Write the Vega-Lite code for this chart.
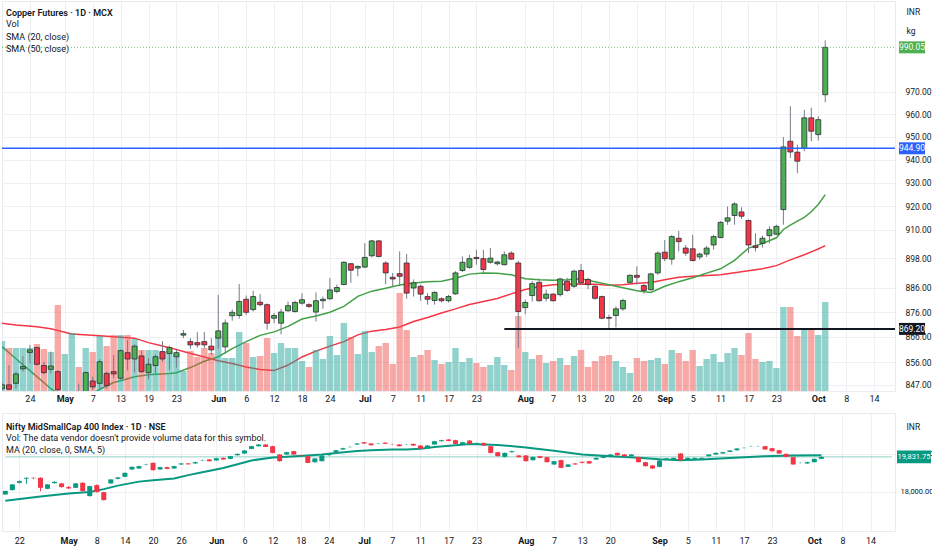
{
  "$schema": "https://vega.github.io/schema/vega-lite/v6.json",
  "background": "#ffffff",
  "padding": {"left": 0, "top": 0, "right": 12, "bottom": 0},
  "spacing": 8,
  "datasets": {
    "mcx": [
      {"d":"2025-04-17","o":845.5,"h":848,"l":844,"c":847,"v":5000},
      {"d":"2025-04-21","o":847,"h":854.8,"l":844.9,"c":845.3,"v":4300},
      {"d":"2025-04-22","o":847.6,"h":852.2,"l":845.6,"c":851.3,"v":4300},
      {"d":"2025-04-23","o":853.3,"h":858.4,"l":852.2,"c":854.2,"v":4300},
      {"d":"2025-04-24","o":859.8,"h":862.8,"l":855.5,"c":860.8,"v":4300},
      {"d":"2025-04-25","o":861.7,"h":862.2,"l":854.6,"c":855.1,"v":4700},
      {"d":"2025-04-28","o":854.6,"h":856.1,"l":851.1,"c":851.8,"v":4200},
      {"d":"2025-04-29","o":853.1,"h":860.1,"l":851.5,"c":854.4,"v":3900},
      {"d":"2025-04-30","o":852.2,"h":852.8,"l":843,"c":845.1,"v":8600},
      {"d":"2025-05-01","o":842,"h":844.2,"l":839,"c":843.5,"v":3700},
      {"d":"2025-05-02","o":838,"h":843.5,"l":836,"c":842.5,"v":5800},
      {"d":"2025-05-05","o":843,"h":847.5,"l":838,"c":839.5,"v":2400},
      {"d":"2025-05-06","o":840.5,"h":852.3,"l":839,"c":851.8,"v":4300},
      {"d":"2025-05-07","o":848.5,"h":850.2,"l":845,"c":846.2,"v":3900},
      {"d":"2025-05-08","o":847.6,"h":857.1,"l":845.7,"c":856.1,"v":5500},
      {"d":"2025-05-09","o":851.5,"h":852.2,"l":845.6,"c":846.7,"v":4500},
      {"d":"2025-05-12","o":852.2,"h":858.8,"l":849.6,"c":851.3,"v":5600},
      {"d":"2025-05-13","o":849.6,"h":861,"l":849,"c":860.5,"v":5600},
      {"d":"2025-05-14","o":859.7,"h":864.7,"l":852.7,"c":857.2,"v":5600},
      {"d":"2025-05-15","o":857.2,"h":863,"l":851.9,"c":862.3,"v":5200},
      {"d":"2025-05-16","o":858.4,"h":860.4,"l":851.8,"c":852.2,"v":4100},
      {"d":"2025-05-19","o":851.8,"h":857.5,"l":849.2,"c":855.1,"v":4100},
      {"d":"2025-05-20","o":854.6,"h":859,"l":851.5,"c":858.1,"v":4100},
      {"d":"2025-05-21","o":860.1,"h":864.3,"l":856.1,"c":857.2,"v":4000},
      {"d":"2025-05-22","o":859.4,"h":862.5,"l":852.9,"c":861.7,"v":4000},
      {"d":"2025-05-23","o":858.1,"h":860.8,"l":853.8,"c":859.7,"v":3700},
      {"d":"2025-05-26","o":866.7,"h":868.8,"l":865.5,"c":867.3,"v":2000},
      {"d":"2025-05-27","o":864.1,"h":865.5,"l":861.2,"c":862.8,"v":4000},
      {"d":"2025-05-28","o":863.7,"h":867.9,"l":861.7,"c":862.8,"v":3400},
      {"d":"2025-05-29","o":864.1,"h":868,"l":861.4,"c":862.8,"v":4300},
      {"d":"2025-05-30","o":862.3,"h":865.5,"l":858.8,"c":860.8,"v":3800},
      {"d":"2025-06-02","o":865.5,"h":883,"l":861.4,"c":868.4,"v":5500},
      {"d":"2025-06-03","o":862,"h":873,"l":859.4,"c":871.6,"v":3300},
      {"d":"2025-06-04","o":874.5,"h":877,"l":872.5,"c":875.9,"v":3300},
      {"d":"2025-06-05","o":874.6,"h":887.4,"l":873.3,"c":880.3,"v":5900},
      {"d":"2025-06-06","o":881.2,"h":882.7,"l":874.8,"c":875.9,"v":4800},
      {"d":"2025-06-09","o":877,"h":884.6,"l":876.2,"c":882.3,"v":3400},
      {"d":"2025-06-10","o":880,"h":883.3,"l":878.3,"c":879,"v":3500},
      {"d":"2025-06-11","o":879,"h":879.5,"l":868.9,"c":871.5,"v":5300},
      {"d":"2025-06-12","o":873.5,"h":875.6,"l":871.5,"c":874.6,"v":3800},
      {"d":"2025-06-13","o":871.5,"h":877.3,"l":867,"c":876,"v":4800},
      {"d":"2025-06-16","o":876.5,"h":880.3,"l":876.2,"c":878.6,"v":4300},
      {"d":"2025-06-17","o":876.2,"h":880.6,"l":875.8,"c":879.9,"v":4300},
      {"d":"2025-06-18","o":879.6,"h":883.7,"l":879,"c":881,"v":3000},
      {"d":"2025-06-19","o":879,"h":879.6,"l":877.6,"c":878.3,"v":2400},
      {"d":"2025-06-20","o":876,"h":884,"l":872.2,"c":880.6,"v":4100},
      {"d":"2025-06-23","o":880.6,"h":882.3,"l":877.3,"c":881.2,"v":3200},
      {"d":"2025-06-24","o":881.4,"h":889.9,"l":881,"c":885,"v":5500},
      {"d":"2025-06-25","o":884.4,"h":887.2,"l":883.7,"c":886,"v":3600},
      {"d":"2025-06-26","o":887.2,"h":896.8,"l":887,"c":896.4,"v":6800},
      {"d":"2025-06-27","o":895.8,"h":896.1,"l":887.9,"c":893.1,"v":5400},
      {"d":"2025-06-30","o":894,"h":895,"l":890.6,"c":894.7,"v":3700},
      {"d":"2025-07-01","o":894.4,"h":904.3,"l":894,"c":898.4,"v":6000},
      {"d":"2025-07-02","o":899.1,"h":905.7,"l":898.4,"c":905.3,"v":3900},
      {"d":"2025-07-03","o":905.3,"h":905.6,"l":898.4,"c":898.8,"v":4500},
      {"d":"2025-07-04","o":896.1,"h":896.8,"l":887.4,"c":892,"v":4800},
      {"d":"2025-07-07","o":890.2,"h":892,"l":886.2,"c":889.5,"v":2700},
      {"d":"2025-07-08","o":891.7,"h":900.9,"l":886.5,"c":890.6,"v":9800},
      {"d":"2025-07-09","o":896.1,"h":899.8,"l":881.4,"c":883.7,"v":6100},
      {"d":"2025-07-10","o":885.8,"h":889.3,"l":882.3,"c":887.9,"v":3400},
      {"d":"2025-07-11","o":886.5,"h":887.2,"l":880.6,"c":883.3,"v":3600},
      {"d":"2025-07-14","o":882.3,"h":883.7,"l":879,"c":881.2,"v":4100},
      {"d":"2025-07-15","o":880.7,"h":884.4,"l":879,"c":884,"v":3100},
      {"d":"2025-07-16","o":881.4,"h":882,"l":879.9,"c":880.6,"v":2700},
      {"d":"2025-07-17","o":880.6,"h":883,"l":879.9,"c":882.3,"v":2900},
      {"d":"2025-07-18","o":883.4,"h":892.7,"l":883,"c":892,"v":4300},
      {"d":"2025-07-21","o":893,"h":898.8,"l":892.4,"c":896.4,"v":2900},
      {"d":"2025-07-22","o":894.3,"h":899.5,"l":893.7,"c":897.9,"v":3300},
      {"d":"2025-07-23","o":898.4,"h":901.6,"l":895.4,"c":897.9,"v":2800},
      {"d":"2025-07-24","o":897.9,"h":901.6,"l":892,"c":893.4,"v":2400},
      {"d":"2025-07-25","o":896.4,"h":902.3,"l":895.8,"c":898.1,"v":2600},
      {"d":"2025-07-28","o":895.8,"h":897,"l":895,"c":896.5,"v":3400},
      {"d":"2025-07-29","o":895.4,"h":900.9,"l":895.1,"c":899.5,"v":2600},
      {"d":"2025-07-30","o":900.2,"h":900.9,"l":897.4,"c":897.7,"v":2100},
      {"d":"2025-07-31","o":896.1,"h":897,"l":861.7,"c":876.2,"v":7500},
      {"d":"2025-08-01","o":877.8,"h":881,"l":875.1,"c":879.9,"v":3900},
      {"d":"2025-08-04","o":882.7,"h":888.6,"l":880.3,"c":887.6,"v":3200},
      {"d":"2025-08-05","o":888.1,"h":889.7,"l":880.3,"c":880.6,"v":3600},
      {"d":"2025-08-06","o":881.6,"h":885.1,"l":880.3,"c":883.3,"v":2800},
      {"d":"2025-08-07","o":883.3,"h":883.6,"l":880.3,"c":880.6,"v":3000},
      {"d":"2025-08-08","o":883.1,"h":890,"l":882.3,"c":889.5,"v":3300},
      {"d":"2025-08-11","o":888.6,"h":890,"l":884.2,"c":884.8,"v":2600},
      {"d":"2025-08-12","o":886.5,"h":893.3,"l":885.8,"c":892.7,"v":3500},
      {"d":"2025-08-13","o":893,"h":895.7,"l":887,"c":887.9,"v":4100},
      {"d":"2025-08-14","o":889.3,"h":890,"l":885.3,"c":887.2,"v":2400},
      {"d":"2025-08-18","o":886.5,"h":887,"l":881,"c":881.6,"v":3000},
      {"d":"2025-08-19","o":882.3,"h":882.7,"l":873.1,"c":873.5,"v":3500},
      {"d":"2025-08-20","o":873.8,"h":874.9,"l":868.9,"c":873.5,"v":3600},
      {"d":"2025-08-21","o":874.6,"h":878.3,"l":869.8,"c":877.3,"v":3000},
      {"d":"2025-08-22","o":877.3,"h":881.4,"l":876.5,"c":880.7,"v":2400},
      {"d":"2025-08-25","o":888.1,"h":891.4,"l":887.5,"c":891,"v":1800},
      {"d":"2025-08-26","o":891,"h":894.7,"l":887.2,"c":890.2,"v":3300},
      {"d":"2025-08-27","o":886.8,"h":887.5,"l":883.5,"c":884.8,"v":3000},
      {"d":"2025-08-28","o":885.1,"h":892,"l":884.7,"c":891.6,"v":3100},
      {"d":"2025-08-29","o":892,"h":900.9,"l":891.2,"c":900.2,"v":3300},
      {"d":"2025-09-01","o":900.6,"h":905.7,"l":896.8,"c":897.9,"v":2700},
      {"d":"2025-09-02","o":897.7,"h":907.8,"l":895.4,"c":907.1,"v":4100},
      {"d":"2025-09-03","o":906.4,"h":909.5,"l":900.9,"c":905,"v":3800},
      {"d":"2025-09-04","o":902.3,"h":903.6,"l":899.1,"c":900.2,"v":3000},
      {"d":"2025-09-05","o":902,"h":907.8,"l":896.8,"c":897.1,"v":4100},
      {"d":"2025-09-08","o":898.6,"h":900.5,"l":897.5,"c":899.8,"v":2500},
      {"d":"2025-09-09","o":899.8,"h":903.2,"l":898.6,"c":902.3,"v":3200},
      {"d":"2025-09-10","o":903.6,"h":907.8,"l":901.7,"c":907.1,"v":3700},
      {"d":"2025-09-11","o":906.7,"h":913.6,"l":906.4,"c":913.1,"v":2900},
      {"d":"2025-09-12","o":913.6,"h":919.8,"l":912.1,"c":915,"v":3800},
      {"d":"2025-09-15","o":916,"h":921.6,"l":912.1,"c":920.9,"v":4300},
      {"d":"2025-09-16","o":917.5,"h":919.5,"l":914.5,"c":915.7,"v":3600},
      {"d":"2025-09-17","o":913.9,"h":914.3,"l":900.2,"c":903.6,"v":5800},
      {"d":"2025-09-18","o":903.2,"h":908.5,"l":900.9,"c":902.5,"v":3200},
      {"d":"2025-09-19","o":904.3,"h":907.5,"l":902.5,"c":906.4,"v":2900},
      {"d":"2025-09-22","o":907.5,"h":911.4,"l":904.3,"c":910,"v":3000},
      {"d":"2025-09-23","o":908.1,"h":912.1,"l":907.8,"c":911.4,"v":2300},
      {"d":"2025-09-24","o":918.5,"h":949.8,"l":912.1,"c":945.5,"v":8400},
      {"d":"2025-09-25","o":948,"h":963.5,"l":940.8,"c":943.3,"v":8400},
      {"d":"2025-09-26","o":943.2,"h":946.5,"l":934.1,"c":939.3,"v":5500},
      {"d":"2025-09-29","o":944.8,"h":961.8,"l":943.6,"c":958.3,"v":6200},
      {"d":"2025-09-30","o":958.3,"h":962.8,"l":948,"c":952.4,"v":6200},
      {"d":"2025-10-01","o":950.9,"h":959,"l":948.3,"c":957.5,"v":5600},
      {"d":"2025-10-03","o":968.6,"h":993.3,"l":965.3,"c":990.05,"v":8900}
    ],
    "sma20": [
      {"d":"2025-04-17","v":862.1},{"d":"2025-04-22","v":857.3},{"d":"2025-04-24","v":852.6},{"d":"2025-04-28","v":847.9},
      {"d":"2025-04-29","v":845.5},{"d":"2025-04-30","v":843.8},{"d":"2025-05-02","v":842.2},{"d":"2025-05-06","v":842.4},
      {"d":"2025-05-07","v":843.6},{"d":"2025-05-08","v":845.3},{"d":"2025-05-12","v":847.9},{"d":"2025-05-13","v":848.6},
      {"d":"2025-05-15","v":850.2},{"d":"2025-05-19","v":851.0},{"d":"2025-05-22","v":851.5},{"d":"2025-05-23","v":851.8},
      {"d":"2025-05-27","v":853.8},{"d":"2025-05-29","v":856.3},{"d":"2025-06-02","v":858.1},{"d":"2025-06-04","v":861.3},
      {"d":"2025-06-06","v":864.1},{"d":"2025-06-10","v":866.6},{"d":"2025-06-12","v":868.0},{"d":"2025-06-16","v":870.2},
      {"d":"2025-06-18","v":873.2},{"d":"2025-06-20","v":874.4},{"d":"2025-06-24","v":875.9},{"d":"2025-06-26","v":878.3},
      {"d":"2025-06-30","v":882.4},{"d":"2025-07-02","v":884.5},{"d":"2025-07-04","v":885.7},{"d":"2025-07-08","v":887.0},
      {"d":"2025-07-10","v":887.8},{"d":"2025-07-14","v":888.4},{"d":"2025-07-16","v":888.6},{"d":"2025-07-18","v":889.8},
      {"d":"2025-07-22","v":891.5},{"d":"2025-07-24","v":892.0},{"d":"2025-07-28","v":891.9},{"d":"2025-07-30","v":891.2},
      {"d":"2025-08-01","v":889.6},{"d":"2025-08-05","v":889.2},{"d":"2025-08-07","v":889.0},{"d":"2025-08-11","v":889.2},
      {"d":"2025-08-13","v":889.6},{"d":"2025-08-18","v":888.4},{"d":"2025-08-20","v":887.1},{"d":"2025-08-22","v":885.9},
      {"d":"2025-08-26","v":884.7},{"d":"2025-08-28","v":884.0},{"d":"2025-09-01","v":886.5},{"d":"2025-09-03","v":888.4},
      {"d":"2025-09-05","v":890.0},{"d":"2025-09-09","v":891.9},{"d":"2025-09-11","v":893.7},{"d":"2025-09-15","v":897.2},
      {"d":"2025-09-17","v":902.3},{"d":"2025-09-19","v":904.2},{"d":"2025-09-23","v":906.6},{"d":"2025-09-24","v":910.1},
      {"d":"2025-09-25","v":911.9},{"d":"2025-09-26","v":913.6},{"d":"2025-09-29","v":915.2},{"d":"2025-09-30","v":917.6},
      {"d":"2025-10-01","v":920.7},{"d":"2025-10-03","v":924.9}
    ],
    "sma50": [
      {"d":"2025-04-17","v":871.5},{"d":"2025-04-22","v":870.8},{"d":"2025-04-25","v":870.1},{"d":"2025-04-29","v":869.3},
      {"d":"2025-05-02","v":867.2},{"d":"2025-05-08","v":866.5},{"d":"2025-05-15","v":865.5},{"d":"2025-05-19","v":863.7},
      {"d":"2025-05-22","v":861.7},{"d":"2025-05-26","v":860.2},{"d":"2025-05-29","v":858.0},{"d":"2025-06-02","v":856.5},
      {"d":"2025-06-04","v":855.4},{"d":"2025-06-06","v":854.0},{"d":"2025-06-10","v":853.0},{"d":"2025-06-12","v":852.6},
      {"d":"2025-06-16","v":854.8},{"d":"2025-06-18","v":858.0},{"d":"2025-06-20","v":860.3},{"d":"2025-06-24","v":862.3},
      {"d":"2025-06-26","v":864.1},{"d":"2025-06-30","v":866.8},{"d":"2025-07-02","v":868.3},{"d":"2025-07-04","v":869.0},
      {"d":"2025-07-08","v":870.0},{"d":"2025-07-10","v":872.2},{"d":"2025-07-14","v":873.8},{"d":"2025-07-16","v":875.6},
      {"d":"2025-07-18","v":877.3},{"d":"2025-07-22","v":879.1},{"d":"2025-07-24","v":880.3},{"d":"2025-07-28","v":881.5},
      {"d":"2025-07-30","v":883.4},{"d":"2025-08-01","v":885.2},{"d":"2025-08-05","v":886.4},{"d":"2025-08-07","v":887.1},
      {"d":"2025-08-11","v":887.3},{"d":"2025-08-13","v":887.4},{"d":"2025-08-18","v":887.3},{"d":"2025-08-20","v":886.9},
      {"d":"2025-08-22","v":887.1},{"d":"2025-08-26","v":887.7},{"d":"2025-08-28","v":888.1},{"d":"2025-09-01","v":889.2},
      {"d":"2025-09-03","v":890.2},{"d":"2025-09-05","v":890.6},{"d":"2025-09-09","v":890.9},{"d":"2025-09-11","v":891.2},
      {"d":"2025-09-15","v":892.1},{"d":"2025-09-17","v":892.9},{"d":"2025-09-19","v":893.7},{"d":"2025-09-23","v":895.0},
      {"d":"2025-09-25","v":897.4},{"d":"2025-09-29","v":899.5},{"d":"2025-09-30","v":900.7},{"d":"2025-10-01","v":901.9},
      {"d":"2025-10-03","v":903.3}
    ],
    "nse": [
      {"d":"2025-04-17","o":17864,"h":18060,"l":17840,"c":18037},
      {"d":"2025-04-21","o":18089,"h":18410,"l":18070,"c":18387},
      {"d":"2025-04-22","o":18471,"h":18590,"l":18440,"c":18560},
      {"d":"2025-04-23","o":18690,"h":18760,"l":18420,"c":18733},
      {"d":"2025-04-24","o":18733,"h":18760,"l":18680,"c":18710},
      {"d":"2025-04-25","o":18733,"h":18760,"l":18030,"c":18209},
      {"d":"2025-04-28","o":18157,"h":18400,"l":18140,"c":18387},
      {"d":"2025-04-29","o":18455,"h":18550,"l":18430,"c":18523},
      {"d":"2025-04-30","o":18440,"h":18470,"l":18220,"c":18246},
      {"d":"2025-05-02","o":18246,"h":18300,"l":18150,"c":18178},
      {"d":"2025-05-05","o":18209,"h":18460,"l":18190,"c":18440},
      {"d":"2025-05-06","o":18471,"h":18500,"l":18020,"c":18037},
      {"d":"2025-05-07","o":17775,"h":18320,"l":17750,"c":18298},
      {"d":"2025-05-08","o":18351,"h":18390,"l":17960,"c":17984},
      {"d":"2025-05-09","o":17984,"h":18000,"l":17540,"c":17565},
      {"d":"2025-05-12","o":18440,"h":18660,"l":18420,"c":18649},
      {"d":"2025-05-13","o":18681,"h":18780,"l":18650,"c":18754},
      {"d":"2025-05-14","o":18785,"h":19010,"l":18770,"c":18995},
      {"d":"2025-05-15","o":19173,"h":19330,"l":19150,"c":19309},
      {"d":"2025-05-16","o":19225,"h":19370,"l":19200,"c":19345},
      {"d":"2025-05-19","o":19420,"h":19470,"l":19390,"c":19435},
      {"d":"2025-05-20","o":19518,"h":19540,"l":19110,"c":19136},
      {"d":"2025-05-21","o":19173,"h":19320,"l":19150,"c":19293},
      {"d":"2025-05-22","o":19293,"h":19320,"l":19180,"c":19204},
      {"d":"2025-05-23","o":19225,"h":19370,"l":19200,"c":19345},
      {"d":"2025-05-26","o":19435,"h":19510,"l":19410,"c":19487},
      {"d":"2025-05-27","o":19487,"h":19510,"l":19420,"c":19445},
      {"d":"2025-05-28","o":19487,"h":19580,"l":19470,"c":19555},
      {"d":"2025-05-29","o":19650,"h":19690,"l":19630,"c":19665},
      {"d":"2025-05-30","o":19696,"h":19720,"l":19590,"c":19607},
      {"d":"2025-06-02","o":19644,"h":19780,"l":19620,"c":19764},
      {"d":"2025-06-03","o":19780,"h":19800,"l":19680,"c":19696},
      {"d":"2025-06-04","o":19728,"h":19890,"l":19710,"c":19869},
      {"d":"2025-06-05","o":19921,"h":20010,"l":19900,"c":19990},
      {"d":"2025-06-06","o":20010,"h":20190,"l":19990,"c":20168},
      {"d":"2025-06-09","o":20251,"h":20410,"l":20230,"c":20393},
      {"d":"2025-06-10","o":20393,"h":20500,"l":20370,"c":20482},
      {"d":"2025-06-11","o":20482,"h":20510,"l":20340,"c":20356},
      {"d":"2025-06-12","o":20393,"h":20420,"l":20020,"c":20042},
      {"d":"2025-06-13","o":19958,"h":19980,"l":19580,"c":19607},
      {"d":"2025-06-16","o":19958,"h":20100,"l":19940,"c":20079},
      {"d":"2025-06-17","o":20131,"h":20150,"l":19940,"c":19958},
      {"d":"2025-06-18","o":19906,"h":19930,"l":19870,"c":19890},
      {"d":"2025-06-19","o":19869,"h":19890,"l":19500,"c":19518},
      {"d":"2025-06-20","o":19555,"h":19770,"l":19530,"c":19749},
      {"d":"2025-06-23","o":19607,"h":19920,"l":19590,"c":19906},
      {"d":"2025-06-24","o":19921,"h":20030,"l":19900,"c":20010},
      {"d":"2025-06-25","o":20094,"h":20200,"l":20080,"c":20183},
      {"d":"2025-06-26","o":20220,"h":20310,"l":20200,"c":20288},
      {"d":"2025-06-27","o":20345,"h":20380,"l":20330,"c":20356},
      {"d":"2025-06-30","o":20482,"h":20560,"l":20460,"c":20534},
      {"d":"2025-07-01","o":20602,"h":20620,"l":20510,"c":20534},
      {"d":"2025-07-02","o":20534,"h":20560,"l":20430,"c":20445},
      {"d":"2025-07-03","o":20525,"h":20560,"l":20500,"c":20534},
      {"d":"2025-07-04","o":20580,"h":20600,"l":20500,"c":20520},
      {"d":"2025-07-07","o":20490,"h":20520,"l":20460,"c":20482},
      {"d":"2025-07-08","o":20482,"h":20510,"l":20380,"c":20393},
      {"d":"2025-07-09","o":20478,"h":20510,"l":20460,"c":20482},
      {"d":"2025-07-10","o":20513,"h":20530,"l":20410,"c":20429},
      {"d":"2025-07-11","o":20429,"h":20450,"l":20250,"c":20272},
      {"d":"2025-07-14","o":20272,"h":20450,"l":20250,"c":20429},
      {"d":"2025-07-15","o":20482,"h":20670,"l":20470,"c":20655},
      {"d":"2025-07-16","o":20655,"h":20730,"l":20640,"c":20707},
      {"d":"2025-07-17","o":20743,"h":20760,"l":20650,"c":20670},
      {"d":"2025-07-18","o":20707,"h":20730,"l":20500,"c":20513},
      {"d":"2025-07-21","o":20482,"h":20620,"l":20460,"c":20602},
      {"d":"2025-07-22","o":20691,"h":20710,"l":20500,"c":20513},
      {"d":"2025-07-23","o":20510,"h":20580,"l":20490,"c":20560},
      {"d":"2025-07-24","o":20565,"h":20590,"l":20410,"c":20429},
      {"d":"2025-07-25","o":20393,"h":20410,"l":20020,"c":20042},
      {"d":"2025-07-28","o":20079,"h":20100,"l":19850,"c":19869},
      {"d":"2025-07-29","o":19832,"h":20060,"l":19810,"c":20042},
      {"d":"2025-07-30","o":20079,"h":20160,"l":20060,"c":20131},
      {"d":"2025-07-31","o":19906,"h":19930,"l":19800,"c":19817},
      {"d":"2025-08-01","o":19906,"h":19930,"l":19590,"c":19607},
      {"d":"2025-08-04","o":19660,"h":19850,"l":19640,"c":19832},
      {"d":"2025-08-05","o":19869,"h":19890,"l":19760,"c":19780},
      {"d":"2025-08-06","o":19817,"h":19840,"l":19540,"c":19555},
      {"d":"2025-08-07","o":19435,"h":19620,"l":19410,"c":19607},
      {"d":"2025-08-08","o":19660,"h":19680,"l":19240,"c":19257},
      {"d":"2025-08-11","o":19309,"h":19450,"l":19290,"c":19435},
      {"d":"2025-08-12","o":19487,"h":19510,"l":19420,"c":19435},
      {"d":"2025-08-13","o":19571,"h":19590,"l":19500,"c":19518},
      {"d":"2025-08-14","o":19607,"h":19630,"l":19470,"c":19487},
      {"d":"2025-08-18","o":19696,"h":19800,"l":19680,"c":19780},
      {"d":"2025-08-19","o":19780,"h":19890,"l":19760,"c":19869},
      {"d":"2025-08-20","o":19869,"h":19980,"l":19850,"c":19958},
      {"d":"2025-08-21","o":20042,"h":20060,"l":19900,"c":19921},
      {"d":"2025-08-22","o":19958,"h":19980,"l":19850,"c":19869},
      {"d":"2025-08-25","o":19869,"h":19980,"l":19850,"c":19958},
      {"d":"2025-08-26","o":19817,"h":19840,"l":19540,"c":19555},
      {"d":"2025-08-28","o":19555,"h":19570,"l":19330,"c":19345},
      {"d":"2025-08-29","o":19382,"h":19400,"l":19200,"c":19225},
      {"d":"2025-09-01","o":19309,"h":19660,"l":19290,"c":19644},
      {"d":"2025-09-02","o":19696,"h":19770,"l":19680,"c":19749},
      {"d":"2025-09-03","o":19696,"h":19800,"l":19680,"c":19780},
      {"d":"2025-09-04","o":20010,"h":20030,"l":19640,"c":19660},
      {"d":"2025-09-05","o":19696,"h":19800,"l":19680,"c":19780},
      {"d":"2025-09-08","o":19728,"h":19800,"l":19710,"c":19780},
      {"d":"2025-09-09","o":19728,"h":19800,"l":19710,"c":19780},
      {"d":"2025-09-10","o":19869,"h":19980,"l":19850,"c":19958},
      {"d":"2025-09-11","o":19958,"h":20060,"l":19940,"c":20042},
      {"d":"2025-09-12","o":20010,"h":20100,"l":19990,"c":20079},
      {"d":"2025-09-15","o":20094,"h":20190,"l":20080,"c":20168},
      {"d":"2025-09-16","o":20183,"h":20290,"l":20160,"c":20272},
      {"d":"2025-09-17","o":20295,"h":20330,"l":20280,"c":20304},
      {"d":"2025-09-18","o":20385,"h":20420,"l":20370,"c":20393},
      {"d":"2025-09-19","o":20390,"h":20420,"l":20370,"c":20393},
      {"d":"2025-09-22","o":20393,"h":20410,"l":20200,"c":20220},
      {"d":"2025-09-23","o":20288,"h":20310,"l":20110,"c":20131},
      {"d":"2025-09-24","o":20183,"h":20200,"l":19990,"c":20010},
      {"d":"2025-09-25","o":19990,"h":20010,"l":19810,"c":19832},
      {"d":"2025-09-26","o":19817,"h":19840,"l":19420,"c":19435},
      {"d":"2025-09-29","o":19510,"h":19540,"l":19490,"c":19518},
      {"d":"2025-09-30","o":19487,"h":19580,"l":19470,"c":19555},
      {"d":"2025-10-01","o":19555,"h":19750,"l":19540,"c":19728},
      {"d":"2025-10-03","o":19728,"h":19860,"l":19710,"c":19831.75}
    ],
    "ma": [
      {"d":"2025-04-17","v":17529},{"d":"2025-04-25","v":17748},{"d":"2025-05-02","v":17916},{"d":"2025-05-07","v":17995},
      {"d":"2025-05-09","v":18141},{"d":"2025-05-13","v":18324},{"d":"2025-05-16","v":18534},{"d":"2025-05-20","v":18612},
      {"d":"2025-05-23","v":18701},{"d":"2025-05-27","v":18874},{"d":"2025-05-29","v":19031},{"d":"2025-06-03","v":19251},
      {"d":"2025-06-05","v":19450},{"d":"2025-06-09","v":19644},{"d":"2025-06-12","v":19801},{"d":"2025-06-16","v":19838},
      {"d":"2025-06-19","v":19911},{"d":"2025-06-23","v":19958},{"d":"2025-06-25","v":20042},{"d":"2025-06-30","v":20141},
      {"d":"2025-07-02","v":20183},{"d":"2025-07-07","v":20220},{"d":"2025-07-09","v":20220},{"d":"2025-07-11","v":20257},
      {"d":"2025-07-15","v":20346},{"d":"2025-07-18","v":20445},{"d":"2025-07-22","v":20508},{"d":"2025-07-28","v":20461},
      {"d":"2025-08-01","v":20330},{"d":"2025-08-07","v":20157},{"d":"2025-08-13","v":19958},{"d":"2025-08-20","v":19869},
      {"d":"2025-08-26","v":19785},{"d":"2025-09-01","v":19702},{"d":"2025-09-04","v":19660},{"d":"2025-09-09","v":19696},
      {"d":"2025-09-15","v":19775},{"d":"2025-09-22","v":19869},{"d":"2025-09-26","v":19911},{"d":"2025-10-03","v":19921}
    ]
  },
  "vconcat": [
    {
      "width": 893,
      "height": 390,
      "title": {
        "text": "Copper Futures · 1D · MCX",
        "subtitle": ["Vol", "SMA (20, close)", "SMA (50, close)"],
        "anchor": "start", "frame": "group", "orient": "top", "offset": -53, "dx": 4,
        "fontSize": 9, "fontWeight": 600, "color": "#131722",
        "subtitleFontSize": 9, "subtitleColor": "#131722", "subtitleLineHeight": 12.5, "subtitlePadding": 2.5
      },
      "encoding": {
        "x": {
          "field": "d", "type": "ordinal",
          "scale": {"type": "point", "padding": 0, "domain": [
            "2025-04-17","2025-04-21","2025-04-22","2025-04-23","2025-04-24","2025-04-25","2025-04-28","2025-04-29","2025-04-30",
            "2025-05-01","2025-05-02","2025-05-05","2025-05-06","2025-05-07","2025-05-08","2025-05-09","2025-05-12","2025-05-13","2025-05-14","2025-05-15","2025-05-16","2025-05-19","2025-05-20","2025-05-21","2025-05-22","2025-05-23","2025-05-26","2025-05-27","2025-05-28","2025-05-29","2025-05-30",
            "2025-06-02","2025-06-03","2025-06-04","2025-06-05","2025-06-06","2025-06-09","2025-06-10","2025-06-11","2025-06-12","2025-06-13","2025-06-16","2025-06-17","2025-06-18","2025-06-19","2025-06-20","2025-06-23","2025-06-24","2025-06-25","2025-06-26","2025-06-27","2025-06-30",
            "2025-07-01","2025-07-02","2025-07-03","2025-07-04","2025-07-07","2025-07-08","2025-07-09","2025-07-10","2025-07-11","2025-07-14","2025-07-15","2025-07-16","2025-07-17","2025-07-18","2025-07-21","2025-07-22","2025-07-23","2025-07-24","2025-07-25","2025-07-28","2025-07-29","2025-07-30","2025-07-31",
            "2025-08-01","2025-08-04","2025-08-05","2025-08-06","2025-08-07","2025-08-08","2025-08-11","2025-08-12","2025-08-13","2025-08-14","2025-08-18","2025-08-19","2025-08-20","2025-08-21","2025-08-22","2025-08-25","2025-08-26","2025-08-27","2025-08-28","2025-08-29",
            "2025-09-01","2025-09-02","2025-09-03","2025-09-04","2025-09-05","2025-09-08","2025-09-09","2025-09-10","2025-09-11","2025-09-12","2025-09-15","2025-09-16","2025-09-17","2025-09-18","2025-09-19","2025-09-22","2025-09-23","2025-09-24","2025-09-25","2025-09-26","2025-09-29","2025-09-30",
            "2025-10-01","2025-10-03","2025-10-06","2025-10-07","2025-10-08","2025-10-09","2025-10-10","2025-10-13","2025-10-14","2025-10-15","2025-10-16","2025-10-17"
          ]},
          "axis": {
            "title": null,
            "values": ["2025-04-24","2025-05-01","2025-05-07","2025-05-13","2025-05-19","2025-05-23","2025-06-02","2025-06-06","2025-06-12","2025-06-18","2025-06-24","2025-07-01","2025-07-07","2025-07-11","2025-07-17","2025-07-23","2025-08-01","2025-08-07","2025-08-13","2025-08-20","2025-08-26","2025-09-01","2025-09-05","2025-09-11","2025-09-17","2025-09-23","2025-10-01","2025-10-08","2025-10-14"],
            "labelExpr": "toNumber(slice(datum.value, 8)) <= 2 ? utcFormat(toDate(datum.value), '%b') : '' + toNumber(slice(datum.value, 8))",
            "labelFontWeight": {"condition": {"test": "toNumber(slice(datum.value, 8)) <= 2", "value": "bold"}, "value": "normal"},
            "labelAngle": 0, "labelOverlap": false, "labelFontSize": 9, "labelColor": "#131722", "labelPadding": 3,
            "ticks": false, "tickSize": 0, "domain": false, "grid": true, "gridColor": "#eef0f4"
          }
        }
      },
      "layer": [
        {
          "layer": [
            {
              "data": {"name": "sma50"},
              "mark": {"type": "line", "color": "#f23645", "strokeWidth": 1.5, "clip": true},
              "encoding": {"y": {"field": "v", "type": "quantitative", "scale": {"type": "log", "domain": [844.6, 1011.5], "nice": false, "zero": false}, "axis": null}}
            },
            {
              "data": {"name": "sma20"},
              "mark": {"type": "line", "color": "#43a047", "strokeWidth": 1.5, "clip": true},
              "encoding": {"y": {"field": "v", "type": "quantitative"}}
            }
          ]
        },
        {
          "data": {"name": "mcx"},
          "mark": {"type": "bar", "width": 6.4, "opacity": 0.5, "clip": true},
          "encoding": {
            "y": {"field": "v", "type": "quantitative", "scale": {"domain": [0, 39000], "nice": false}, "axis": null},
            "color": {"condition": {"test": "datum.c >= datum.o", "value": "#26a69a"}, "value": "#ef5350"}
          }
        },
        {
          "layer": [
            {
              "data": {"name": "mcx"},
              "mark": {"type": "rule", "color": "#787b86", "strokeWidth": 1, "clip": true},
              "encoding": {
                "y": {
                  "field": "l", "type": "quantitative",
                  "scale": {"type": "log", "domain": [844.6, 1011.5], "nice": false, "zero": false},
                  "axis": {
                    "orient": "right", "values": [847, 856, 866, 876, 886, 898, 910, 920, 930, 940, 950, 960, 970],
                    "format": ".2f", "grid": true, "gridColor": "#eef0f4", "ticks": false, "tickSize": 0, "domain": false,
                    "labelAlign": "left", "labelPadding": 10, "labelFontSize": 8.5, "labelColor": "#131722",
                    "title": ["INR", "kg"], "titleAngle": 0, "titleAlign": "left", "titleBaseline": "top",
                    "titleX": 11, "titleY": 6, "titleFontSize": 8.5, "titleFontWeight": "normal", "titleColor": "#131722", "titleLineHeight": 19
                  }
                },
                "y2": {"field": "h"}
              }
            },
            {
              "data": {"name": "mcx"},
              "mark": {"type": "bar", "width": 5, "stroke": "#2a2e39", "strokeWidth": 0.8, "clip": true},
              "encoding": {
                "y": {"field": "o", "type": "quantitative"},
                "y2": {"field": "c"},
                "color": {"condition": {"test": "datum.c >= datum.o", "value": "#4caf50"}, "value": "#f23645"}
              }
            },
            {
              "data": {"values": [{}]},
              "mark": {"type": "rule", "color": "#4caf50", "strokeWidth": 1, "strokeDash": [1, 2], "opacity": 0.8},
              "encoding": {"x": {"datum": "2025-04-17", "type": "ordinal"}, "x2": {"datum": "2025-10-17"}, "y": {"datum": 990.05, "type": "quantitative"}}
            },
            {
              "data": {"values": [{}]},
              "mark": {"type": "rule", "color": "#2962ff", "strokeWidth": 1.6},
              "encoding": {"x": {"datum": "2025-04-17", "type": "ordinal"}, "x2": {"datum": "2025-10-17"}, "y": {"datum": 944.9, "type": "quantitative"}}
            },
            {
              "data": {"values": [{}]},
              "mark": {"type": "rule", "color": "#131722", "strokeWidth": 2},
              "encoding": {"x": {"datum": "2025-07-29", "type": "ordinal"}, "x2": {"datum": "2025-10-17"}, "y": {"datum": 869.2, "type": "quantitative"}}
            },
            {
              "data": {"values": [{}]},
              "mark": {"type": "point", "shape": "M-1,-0.46H1V0.46H-1Z", "size": 676, "filled": true, "opacity": 1, "color": "#4caf50"},
              "encoding": {"x": {"value": 910}, "y": {"datum": 990.05, "type": "quantitative"}}
            },
            {
              "data": {"values": [{}]},
              "mark": {"type": "text", "text": "990.05", "color": "#ffffff", "fontSize": 8.5, "align": "center", "baseline": "middle"},
              "encoding": {"x": {"value": 910}, "y": {"datum": 990.05, "type": "quantitative"}}
            },
            {
              "data": {"values": [{}]},
              "mark": {"type": "point", "shape": "M-1,-0.46H1V0.46H-1Z", "size": 676, "filled": true, "opacity": 1, "color": "#2962ff"},
              "encoding": {"x": {"value": 910}, "y": {"datum": 944.9, "type": "quantitative"}}
            },
            {
              "data": {"values": [{}]},
              "mark": {"type": "text", "text": "944.90", "color": "#ffffff", "fontSize": 8.5, "align": "center", "baseline": "middle"},
              "encoding": {"x": {"value": 910}, "y": {"datum": 944.9, "type": "quantitative"}}
            },
            {
              "data": {"values": [{}]},
              "mark": {"type": "point", "shape": "M-1,-0.46H1V0.46H-1Z", "size": 676, "filled": true, "opacity": 1, "color": "#131722"},
              "encoding": {"x": {"value": 910}, "y": {"datum": 869.2, "type": "quantitative"}}
            },
            {
              "data": {"values": [{}]},
              "mark": {"type": "text", "text": "869.20", "color": "#ffffff", "fontSize": 8.5, "align": "center", "baseline": "middle"},
              "encoding": {"x": {"value": 910}, "y": {"datum": 869.2, "type": "quantitative"}}
            }
          ]
        }
      ],
      "resolve": {"scale": {"y": "independent"}}
    },
    {
      "width": 893,
      "height": 118,
      "title": {
        "text": "Nifty MidSmallCap 400 Index · 1D · NSE",
        "subtitle": ["Vol: The data vendor doesn't provide volume data for this symbol.", "MA (20, close, 0, SMA, 5)"],
        "anchor": "start", "frame": "group", "orient": "top", "offset": -42, "dx": 4,
        "fontSize": 9, "fontWeight": 600, "color": "#131722",
        "subtitleFontSize": 9, "subtitleColor": "#131722", "subtitleLineHeight": 12.5, "subtitlePadding": 2
      },
      "encoding": {
        "x": {
          "field": "d", "type": "ordinal",
          "scale": {"type": "point", "padding": 0.47, "domain": [
            "2025-04-17","2025-04-21","2025-04-22","2025-04-23","2025-04-24","2025-04-25","2025-04-28","2025-04-29","2025-04-30",
            "2025-05-02","2025-05-05","2025-05-06","2025-05-07","2025-05-08","2025-05-09","2025-05-12","2025-05-13","2025-05-14","2025-05-15","2025-05-16","2025-05-19","2025-05-20","2025-05-21","2025-05-22","2025-05-23","2025-05-26","2025-05-27","2025-05-28","2025-05-29","2025-05-30",
            "2025-06-02","2025-06-03","2025-06-04","2025-06-05","2025-06-06","2025-06-09","2025-06-10","2025-06-11","2025-06-12","2025-06-13","2025-06-16","2025-06-17","2025-06-18","2025-06-19","2025-06-20","2025-06-23","2025-06-24","2025-06-25","2025-06-26","2025-06-27","2025-06-30",
            "2025-07-01","2025-07-02","2025-07-03","2025-07-04","2025-07-07","2025-07-08","2025-07-09","2025-07-10","2025-07-11","2025-07-14","2025-07-15","2025-07-16","2025-07-17","2025-07-18","2025-07-21","2025-07-22","2025-07-23","2025-07-24","2025-07-25","2025-07-28","2025-07-29","2025-07-30","2025-07-31",
            "2025-08-01","2025-08-04","2025-08-05","2025-08-06","2025-08-07","2025-08-08","2025-08-11","2025-08-12","2025-08-13","2025-08-14","2025-08-18","2025-08-19","2025-08-20","2025-08-21","2025-08-22","2025-08-25","2025-08-26","2025-08-28","2025-08-29",
            "2025-09-01","2025-09-02","2025-09-03","2025-09-04","2025-09-05","2025-09-08","2025-09-09","2025-09-10","2025-09-11","2025-09-12","2025-09-15","2025-09-16","2025-09-17","2025-09-18","2025-09-19","2025-09-22","2025-09-23","2025-09-24","2025-09-25","2025-09-26","2025-09-29","2025-09-30",
            "2025-10-01","2025-10-03","2025-10-06","2025-10-07","2025-10-08","2025-10-09","2025-10-10","2025-10-13","2025-10-14","2025-10-15","2025-10-16","2025-10-17"
          ]},
          "axis": {
            "title": null,
            "values": ["2025-04-22","2025-05-02","2025-05-08","2025-05-14","2025-05-20","2025-05-26","2025-06-02","2025-06-06","2025-06-12","2025-06-18","2025-06-24","2025-07-01","2025-07-07","2025-07-11","2025-07-17","2025-07-23","2025-08-01","2025-08-07","2025-08-13","2025-08-20","2025-09-01","2025-09-05","2025-09-11","2025-09-17","2025-09-23","2025-10-01","2025-10-08","2025-10-14"],
            "labelExpr": "toNumber(slice(datum.value, 8)) <= 2 ? utcFormat(toDate(datum.value), '%b') : '' + toNumber(slice(datum.value, 8))",
            "labelFontWeight": {"condition": {"test": "toNumber(slice(datum.value, 8)) <= 2", "value": "bold"}, "value": "normal"},
            "labelAngle": 0, "labelOverlap": false, "labelFontSize": 9, "labelColor": "#131722", "labelPadding": 5,
            "ticks": false, "tickSize": 0, "domain": false, "grid": true, "gridColor": "#eef0f4"
          }
        }
      },
      "layer": [
        {
          "data": {"name": "ma"},
          "mark": {"type": "line", "color": "#089981", "strokeWidth": 2, "clip": true},
          "encoding": {
            "y": {
              "field": "v", "type": "quantitative",
              "scale": {"domain": [15942, 22136], "nice": false, "zero": false},
              "axis": {
                "orient": "right", "values": [18000, 20000], "format": ",.2f", "grid": true, "gridColor": "#eef0f4",
                "ticks": false, "tickSize": 0, "domain": false, "labelAlign": "left", "labelPadding": 5,
                "labelFontSize": 7.5, "labelColor": "#131722",
                "title": "INR", "titleAngle": 0, "titleAlign": "left", "titleBaseline": "middle",
                "titleX": 11, "titleY": 13, "titleFontSize": 8.5, "titleFontWeight": "normal", "titleColor": "#131722"
              }
            }
          }
        },
        {
          "data": {"values": [{}]},
          "mark": {"type": "rule", "color": "#089981", "strokeWidth": 1, "opacity": 0.45},
          "encoding": {"x": {"datum": "2025-04-17", "type": "ordinal"}, "x2": {"datum": "2025-10-17"}, "y": {"datum": 19831.75, "type": "quantitative"}}
        },
        {
          "data": {"name": "nse"},
          "mark": {"type": "rule", "strokeWidth": 1, "clip": true},
          "encoding": {
            "y": {"field": "l", "type": "quantitative"},
            "y2": {"field": "h"},
            "color": {"condition": {"test": "datum.c >= datum.o", "value": "#089981"}, "value": "#f23645"}
          }
        },
        {
          "data": {"name": "nse"},
          "mark": {"type": "bar", "width": 5, "clip": true},
          "encoding": {
            "y": {"field": "o", "type": "quantitative"},
            "y2": {"field": "c"},
            "color": {"condition": {"test": "datum.c >= datum.o", "value": "#089981"}, "value": "#f23645"}
          }
        },
        {
          "data": {"values": [{}]},
          "mark": {"type": "point", "shape": "M-1,-0.37H1V0.37H-1Z", "size": 1156, "filled": true, "opacity": 1, "color": "#089981"},
          "encoding": {"x": {"value": 912}, "y": {"datum": 19831.75, "type": "quantitative"}}
        },
        {
          "data": {"values": [{}]},
          "mark": {"type": "text", "text": "19,831.75", "color": "#ffffff", "fontSize": 7.5, "align": "center", "baseline": "middle"},
          "encoding": {"x": {"value": 912}, "y": {"datum": 19831.75, "type": "quantitative"}}
        }
      ]
    }
  ],
  "config": {
    "font": "Liberation Sans Narrow, Roboto, sans-serif",
    "view": {"stroke": "#e9ebf0"},
    "axis": {"labelFont": "Liberation Sans Narrow, Roboto, sans-serif", "titleFont": "Liberation Sans Narrow, Roboto, sans-serif"},
    "title": {"font": "Liberation Sans Narrow, Roboto, sans-serif", "subtitleFont": "Liberation Sans Narrow, Roboto, sans-serif"},
    "text": {"font": "Liberation Sans Narrow, Roboto, sans-serif"}
  }
}
